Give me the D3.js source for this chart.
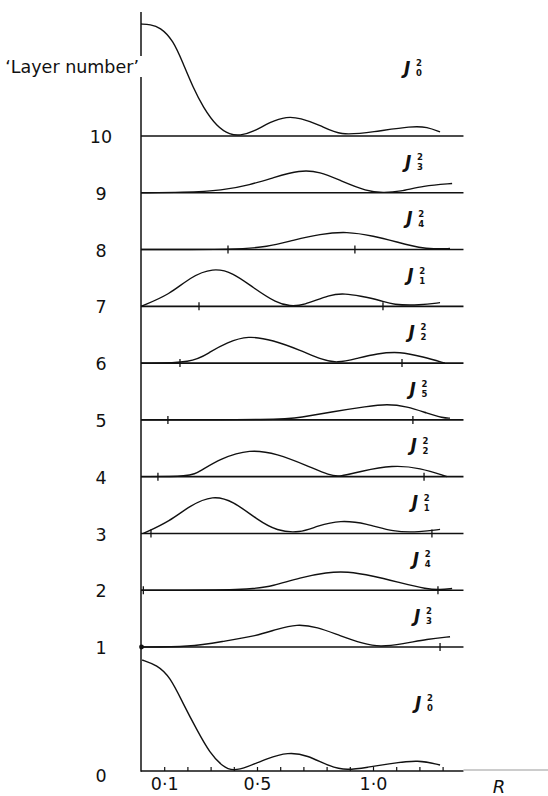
<!DOCTYPE html>
<html><head><meta charset="utf-8">
<script src="https://cdn.jsdelivr.net/npm/d3@7"></script>
<style>body{margin:0;background:#fff} svg{display:block}</style>
</head><body><svg id="c" width="548" height="796"></svg>
<script>
// ---- data ----
const layers = [0,1,2,3,4,5,6,7,8,9,10];
const besselOrder = [0,3,4,1,2,5,2,1,4,3,0];
const xMinorTicks = [0.1,0.2,0.3,0.4,0.5,0.6,0.7,0.8,0.9,1.0,1.1,1.2,1.3];
const xLabelTicks = [0.1,0.5,1.0];
const xLabelText = ["0·1","0·5","1·0"];
const rMax = 1.39;
// ring boundary marks on each baseline (inner, outer), null = none
const ringInner = [null,0.0,0.01,0.043,0.073,0.116,0.168,0.25,0.375,null,null];
const ringOuter = [null,1.289,1.28,1.254,1.22,1.172,1.125,1.043,0.922,null,null];
// curves: [R, J^2 value]
const curveL0 = [[0.005,0.991],[0.069,0.946],[0.125,0.842],[0.181,0.604],[0.241,0.366],[0.297,0.158],[0.353,0.038],[0.397,0.0],[0.457,0.033],[0.543,0.113],[0.634,0.168],[0.716,0.143],[0.815,0.038],[0.888,0.005],[0.974,0.033],[1.086,0.069],[1.194,0.1],[1.289,0.054]];
const curveL1 = [[0,0],[0.211,0],[0.353,0.05],[0.5,0.1],[0.586,0.16],[0.672,0.205],[0.759,0.179],[0.858,0.1],[0.957,0.03],[1.03,0.0],[1.129,0.027],[1.233,0.071],[1.332,0.092]];
const curveL2 = [[0,0],[0.47,0],[0.569,0.038],[0.685,0.113],[0.802,0.16],[0.888,0.168],[1.0,0.128],[1.116,0.068],[1.233,0.009],[1.289,0.003],[1.341,0.015]];
const curveL3 = [[0.01,0],[0.125,0.11],[0.211,0.25],[0.31,0.342],[0.397,0.289],[0.5,0.125],[0.586,0.021],[0.685,0.004],[0.759,0.066],[0.858,0.12],[0.974,0.089],[1.086,0.012],[1.203,0.012],[1.289,0.036]];
const curveL4 = [[0,0],[0.211,0],[0.254,0.047],[0.341,0.161],[0.47,0.247],[0.586,0.205],[0.716,0.098],[0.815,0.009],[0.858,0],[0.944,0.047],[1.086,0.104],[1.203,0.078],[1.319,0]];
const curveL5 = [[0,0],[0.6,0],[0.685,0.021],[0.828,0.074],[0.974,0.12],[1.06,0.143],[1.147,0.12],[1.233,0.06],[1.302,0.016],[1.332,0.016]];
const curveL6 = [[0,0],[0.224,0],[0.297,0.1],[0.371,0.184],[0.461,0.247],[0.569,0.205],[0.685,0.116],[0.784,0.027],[0.845,0],[0.931,0.042],[1.017,0.086],[1.116,0.104],[1.216,0.056],[1.31,0]];
const curveL7 = [[0,0],[0.125,0.107],[0.211,0.26],[0.31,0.345],[0.397,0.301],[0.483,0.167],[0.586,0.027],[0.642,0.002],[0.698,0.006],[0.815,0.107],[0.88,0.114],[0.944,0.092],[1.03,0.056],[1.086,0.012],[1.203,0.009],[1.289,0.033]];
const curveL8 = [[0,0],[0.42,0],[0.543,0.024],[0.655,0.083],[0.772,0.139],[0.888,0.162],[1.0,0.122],[1.116,0.06],[1.203,0.015],[1.259,0.006],[1.332,0.009]];
const curveL9 = [[0,0],[0.181,0.003],[0.353,0.021],[0.47,0.071],[0.569,0.134],[0.685,0.204],[0.772,0.188],[0.858,0.11],[0.974,0.012],[1.043,0.0],[1.116,0.009],[1.216,0.063],[1.341,0.083]];
const curveL10 = [[0,1.0],[0.04,0.995],[0.082,0.972],[0.138,0.857],[0.181,0.65],[0.224,0.435],[0.267,0.259],[0.328,0.08],[0.384,0.012],[0.427,0.003],[0.483,0.036],[0.556,0.125],[0.629,0.175],[0.685,0.161],[0.772,0.098],[0.858,0.0],[1.0,0.036],[1.172,0.09],[1.233,0.08],[1.289,0.036]];
const curves = [curveL0,curveL1,curveL2,curveL3,curveL4,curveL5,curveL6,curveL7,curveL8,curveL9,curveL10];

// ---- scales ----
const svg = d3.select("#c");
const x = d3.scaleLinear([0,1],[141,373]);
const y = d3.scaleLinear([0,1,10],[771,647,136]);
const amp = d3.scaleLinear([0,1],[0,112]);
const yTop = 12;
const ink = "#111";
const font = "'DejaVu Sans', sans-serif";

// y axis line (with gap for title)
svg.append("line").attr("x1",x(0)).attr("x2",x(0)).attr("y1",yTop).attr("y2",56).attr("stroke",ink).attr("stroke-width",1.5);
svg.append("line").attr("x1",x(0)).attr("x2",x(0)).attr("y1",77).attr("y2",y(0)+0.8).attr("stroke",ink).attr("stroke-width",1.5);

svg.append("text").attr("x",139).attr("y",73).attr("text-anchor","end")
  .attr("font-family",font).attr("font-size",17.5).attr("fill",ink).text("‘Layer number’");

// baselines
layers.forEach(l=>{
  svg.append("line").attr("x1",x(0)).attr("x2",x(rMax)).attr("y1",y(l)).attr("y2",y(l))
    .attr("stroke",ink).attr("stroke-width",1.6);
});
svg.append("line").attr("x1",x(rMax)).attr("x2",548).attr("y1",y(0)-1).attr("y2",y(0)-1)
  .attr("stroke","#999").attr("stroke-width",1);

// ring marks
layers.forEach(l=>{
  [ringInner[l],ringOuter[l]].forEach((r,i)=>{
    if(r===null) return;
    if(l===1 && i===0){
      svg.append("circle").attr("cx",x(r)+0.5).attr("cy",y(l)).attr("r",2.4).attr("fill",ink);
      return;
    }
    svg.append("line").attr("x1",x(r)).attr("x2",x(r)).attr("y1",y(l)-4).attr("y2",y(l)+4)
      .attr("stroke",ink).attr("stroke-width",1.3);
  });
});

// y axis tick labels
const yAxis = d3.axisLeft(y).tickValues(layers).tickSize(0).tickPadding(0).tickFormat(d3.format("d"));
const gy = svg.append("g").attr("transform",`translate(${x(0)},0)`).call(yAxis);
gy.select(".domain").remove();
gy.selectAll("text").attr("x",-40).attr("text-anchor","middle")
  .attr("dy", d=> d===0 ? "0.62em" : "0.38em")
  .attr("font-family",font).attr("font-size",17.5).attr("fill",ink);

// bottom axis minor ticks (pointing up)
const gx = svg.append("g").attr("transform",`translate(0,${y(0)})`)
  .call(d3.axisBottom(x).tickValues(xMinorTicks).tickSize(-4).tickFormat(""));
gx.select(".domain").remove();
gx.selectAll("line").attr("stroke",ink).attr("stroke-width",1.2);
const gxl = svg.append("g").attr("transform",`translate(0,${y(0)})`)
  .call(d3.axisBottom(x).tickValues(xLabelTicks).tickSize(0).tickPadding(7).tickFormat((d,i)=>xLabelText[i]));
gxl.select(".domain").remove();
gxl.selectAll("text").attr("font-family",font).attr("font-size",17.5).attr("fill",ink);

svg.append("text").attr("x",499).attr("y",793).attr("text-anchor","middle")
  .attr("font-family",font).attr("font-size",18).attr("font-style","italic").attr("fill",ink).text("R");

// curves
const line = d3.line().curve(d3.curveBasis);
layers.forEach(l=>{
  const pts = curves[l].map(([r,v])=>[x(r), y(l)-amp(v)]);
  svg.append("path").attr("d",line(pts)).attr("fill","none").attr("stroke",ink).attr("stroke-width",1.4);
});

// J labels
layers.forEach(l=>{
  const upper = l===10 ? yTop : y(l+1);
  const cy = upper + (y(l)-upper)*0.45;
  const lx = 404 + (10-l)*1.1;
  const g = svg.append("g").attr("transform",`translate(${lx},${cy})`).attr("fill",ink).attr("font-family",font);
  g.append("text").attr("x",0).attr("y",6).attr("font-size",17).attr("font-style","italic").attr("font-weight","bold").text("J");
  g.append("text").attr("x",12).attr("y",-1.5).attr("font-size",8.5).attr("font-weight","bold").text("2");
  g.append("text").attr("x",12).attr("y",8.5).attr("font-size",8.5).attr("font-weight","bold").text(String(besselOrder[l]));
});
</script></body></html>
